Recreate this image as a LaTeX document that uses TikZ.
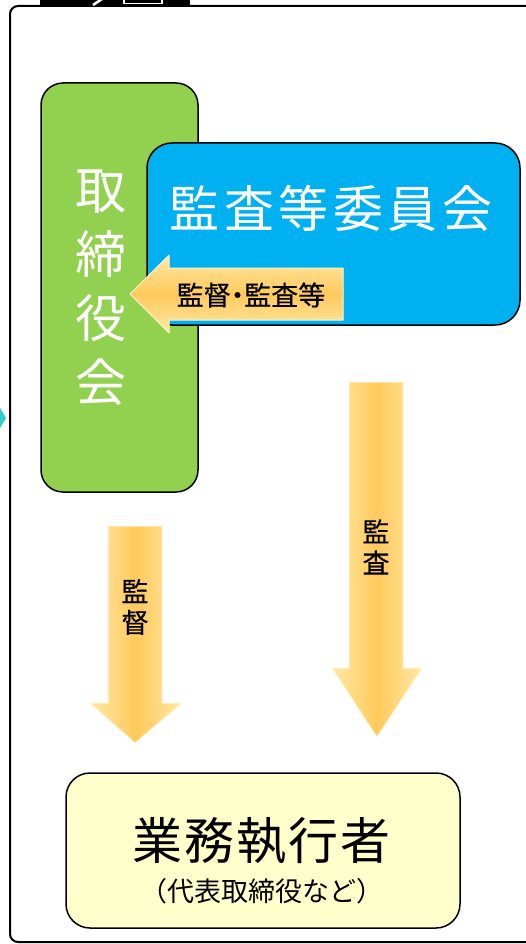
\documentclass[tikz,border=0pt]{standalone}
\usepackage{fontspec}
\setmainfont{Noto Sans CJK JP}

\definecolor{verde}{HTML}{92D050}
\definecolor{azul}{HTML}{00B0F0}
\definecolor{crema}{HTML}{FFFFCC}
\definecolor{naranja}{HTML}{FFC95C}
\definecolor{claro}{HTML}{FFE9A6}
\definecolor{borde}{HTML}{FFF4D0}
\definecolor{turquesa}{HTML}{33CCCC}

\tikzset{
    caja/.style={draw=black, line width=1.5pt, rounded corners=#1, inner sep=0pt},
    flechav/.style={left color=claro, right color=claro, middle color=naranja, draw=borde, line width=1pt, line join=round},
    flechah/.style={top color=claro, bottom color=claro, middle color=naranja, draw=borde, line width=1pt, line join=round},
    letra/.style={font=\fontsize{#1}{#1}\selectfont, inner sep=0pt}
}

\begin{document}
\begin{tikzpicture}[x=1pt, y=-1pt]
    % Marco de la imagen
    \useasboundingbox (0,0) rectangle (526,944);
    \clip (0,0) rectangle (526,944);

    % Marco exterior y pestaña negra
    \draw[line width=2pt, rounded corners=8pt] (10,6) rectangle (560,942);
    \fill[black] (40,-2) rectangle (190,7);
    \draw[white, line width=2.5pt] (93,5) -- (102,-1);
    \draw[white, line width=1.5pt] (124,-3) rectangle (162,3.5);
    \fill[turquesa] (-10,391) -- (6,418) -- (-10,445) -- cycle;

    % Definir los nodos de las cajas
    \node[caja=22pt, fill=verde, minimum width=157pt, minimum height=409pt] (T) at (119.5,287.5) {};
    \node[caja=25pt, fill=azul, minimum width=373pt, minimum height=182pt] (K) at (333.5,234) {};
    \node[caja=24pt, fill=crema, minimum width=394pt, minimum height=155pt] (G) at (263,850.5) {};

    % Textos de las cajas
    \node[white, font=\fontsize{51}{64}\selectfont, align=center, inner sep=0pt] (Tt) at (101,288) {取\\締\\役\\会};
    \node[white, font=\fontsize{50}{50}\selectfont\addfontfeature{LetterSpace=9}, inner sep=0pt] (Kt) at (331,208) {監査等委員会};
    \node[font=\fontsize{50}{50}\selectfont\addfontfeature{LetterSpace=4}, inner sep=0pt] (Gt) at (261,841) {業務執行者};
    \node[letra=27] (Gs) at (262,891) {（代表取締役など）};

    % Dibujar las flechas
    \path[flechah] (130,294) -- (169,255) -- (169,268) -- (343,268) -- (343,320) -- (169,320) -- (169,333) -- cycle;
    \path[flechav] (108,526) -- (162,526) -- (162,703) -- (182,703) -- (135,743) -- (90,703) -- (108,703) -- cycle;
    \path[flechav] (349,382) -- (403,382) -- (403,668) -- (422,668) -- (377,737) -- (332,668) -- (349,668) -- cycle;

    % Textos de las flechas
    \node[font=\fontsize{27}{31}\selectfont\addfontfeature{RawFeature=+palt,FakeBold=0.4}, inner sep=0pt] (F1) at (251,295) {監督・監査等};
    \node[font=\fontsize{27}{31}\selectfont\addfontfeature{FakeBold=0.4}, align=center, inner sep=0pt] (F2) at (135,607) {監\\督};
    \node[font=\fontsize{27}{31}\selectfont\addfontfeature{FakeBold=0.4}, align=center, inner sep=0pt] (F3) at (376,547) {監\\査};

\end{tikzpicture}
\end{document}
